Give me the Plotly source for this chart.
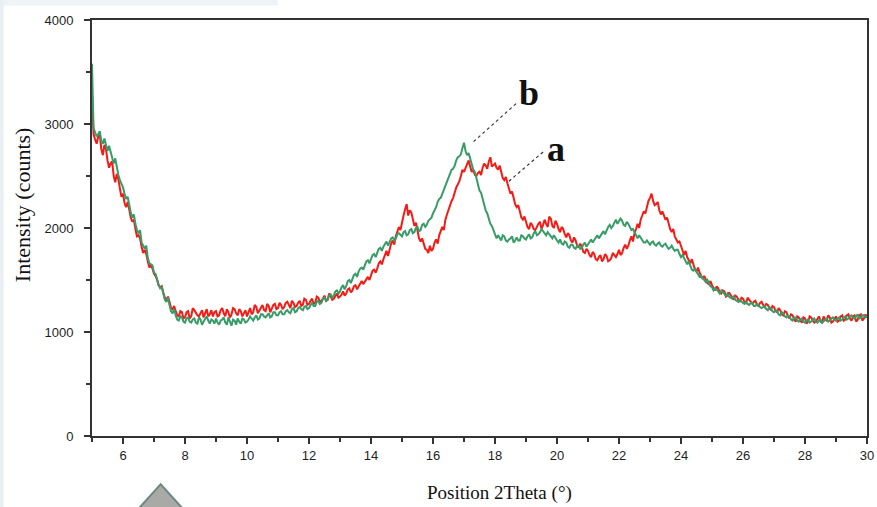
import numpy as np
import plotly.graph_objects as go

# 2-theta sampling grid (degrees)
THETA_START = 5.0
THETA_STEP = 0.05

# Sample a: intensity (counts) at x.0, x.1 ... x.9 for each whole degree; last value at 30.0
sample_a_rows = [
    [3280, 2850, 2880, 2760, 2800, 2650, 2620, 2500, 2520, 2380],  # 5
    [2330, 2200, 2180, 2060, 1990, 1930, 1820, 1790, 1680, 1640],  # 6
    [1560, 1500, 1430, 1380, 1310, 1290, 1220, 1200, 1150, 1190],  # 7
    [1140, 1200, 1150, 1210, 1160, 1190, 1140, 1220, 1170, 1150],  # 8
    [1200, 1160, 1230, 1150, 1190, 1170, 1220, 1160, 1200, 1180],  # 9
    [1150, 1230, 1190, 1240, 1210, 1260, 1200, 1250, 1220, 1270],  # 10
    [1230, 1260, 1240, 1290, 1230, 1280, 1250, 1300, 1260, 1310],  # 11
    [1270, 1320, 1280, 1330, 1300, 1350, 1310, 1340, 1320, 1370],  # 12
    [1340, 1390, 1370, 1420, 1400, 1450, 1440, 1490, 1480, 1530],  # 13
    [1540, 1600, 1610, 1680, 1700, 1780, 1800, 1880, 1920, 2010],  # 14
    [2060, 2180, 2120, 2150, 2020, 1980, 1870, 1850, 1790, 1830],  # 15
    [1800, 1890, 1930, 2010, 2080, 2180, 2260, 2350, 2420, 2500],  # 16
    [2540, 2610, 2590, 2560, 2500, 2540, 2580, 2600, 2640, 2590],  # 17
    [2620, 2560, 2530, 2460, 2430, 2330, 2290, 2200, 2160, 2080],  # 18
    [2060, 1990, 2030, 1980, 2040, 1990, 2080, 2010, 2090, 2000],  # 19
    [2040, 1960, 1990, 1910, 1930, 1860, 1880, 1810, 1820, 1760],  # 20
    [1780, 1720, 1750, 1690, 1740, 1700, 1730, 1690, 1760, 1720],  # 21
    [1790, 1760, 1840, 1830, 1920, 1950, 2040, 2080, 2160, 2200],  # 22
    [2290, 2260, 2230, 2170, 2160, 2080, 2040, 1960, 1920, 1860],  # 23
    [1820, 1740, 1720, 1660, 1640, 1580, 1570, 1510, 1500, 1460],  # 24
    [1450, 1400, 1420, 1370, 1390, 1350, 1360, 1310, 1340, 1290],  # 25
    [1320, 1280, 1310, 1270, 1300, 1250, 1290, 1240, 1260, 1210],  # 26
    [1240, 1190, 1210, 1160, 1190, 1130, 1160, 1100, 1140, 1090],  # 27
    [1130, 1100, 1140, 1090, 1130, 1100, 1150, 1110, 1140, 1100],  # 28
    [1150, 1110, 1160, 1120, 1170, 1110, 1160, 1120, 1170, 1130],  # 29
]
# Sample a at the half steps x.05, x.15 ... x.95
sample_a_half_rows = [
    [2900, 2810, 2900, 2700, 2760, 2580, 2640, 2440, 2470, 2300],  # 5
    [2240, 2250, 2100, 2080, 1920, 1900, 1760, 1750, 1620, 1610],  # 6
    [1540, 1450, 1440, 1330, 1340, 1230, 1250, 1160, 1200, 1130],  # 7
    [1190, 1130, 1230, 1180, 1150, 1210, 1190, 1150, 1210, 1190],  # 8
    [1150, 1210, 1180, 1220, 1140, 1230, 1180, 1220, 1150, 1210],  # 9
    [1200, 1170, 1260, 1180, 1230, 1210, 1270, 1190, 1260, 1220],  # 10
    [1280, 1220, 1280, 1250, 1300, 1240, 1280, 1250, 1320, 1260],  # 11
    [1300, 1270, 1340, 1290, 1320, 1300, 1370, 1310, 1350, 1330],  # 12
    [1360, 1350, 1410, 1380, 1440, 1410, 1470, 1460, 1510, 1500],  # 13
    [1590, 1570, 1660, 1650, 1750, 1730, 1850, 1840, 1970, 1980],  # 14
    [2120, 2230, 2170, 2070, 2050, 1900, 1900, 1800, 1760, 1780],  # 15
    [1860, 1850, 1970, 1980, 2130, 2210, 2290, 2390, 2450, 2560],  # 16
    [2580, 2650, 2540, 2510, 2530, 2510, 2620, 2570, 2680, 2610],  # 17
    [2580, 2600, 2480, 2490, 2370, 2350, 2230, 2220, 2100, 2110],  # 18
    [2010, 2050, 1990, 2020, 2060, 2030, 2040, 2110, 2020, 2070],  # 19
    [1990, 2010, 1940, 1950, 1880, 1910, 1830, 1850, 1770, 1800],  # 20
    [1740, 1770, 1700, 1720, 1680, 1750, 1680, 1710, 1740, 1750],  # 21
    [1740, 1810, 1800, 1880, 1870, 1990, 2000, 2120, 2140, 2260],  # 22
    [2330, 2220, 2250, 2130, 2110, 2100, 1990, 1990, 1880, 1870],  # 23
    [1770, 1780, 1690, 1700, 1600, 1620, 1530, 1540, 1470, 1490],  # 24
    [1420, 1440, 1380, 1400, 1340, 1380, 1330, 1350, 1310, 1330],  # 25
    [1290, 1330, 1280, 1290, 1260, 1280, 1260, 1270, 1230, 1250],  # 26
    [1200, 1230, 1170, 1200, 1150, 1170, 1120, 1150, 1110, 1140],  # 27
    [1080, 1150, 1110, 1100, 1150, 1090, 1120, 1160, 1090, 1130],  # 28
    [1100, 1150, 1110, 1160, 1130, 1150, 1100, 1160, 1110, 1170],  # 29
]
sample_a_end = 1140  # 30.0

# Sample b: intensity (counts) at x.0 ... x.9
sample_b_rows = [
    [3580, 2920, 2900, 2840, 2860, 2740, 2730, 2620, 2580, 2460],  # 5
    [2390, 2280, 2220, 2100, 2040, 1950, 1860, 1800, 1710, 1650],  # 6
    [1570, 1510, 1420, 1370, 1290, 1260, 1180, 1160, 1110, 1140],  # 7
    [1090, 1140, 1090, 1130, 1080, 1120, 1100, 1150, 1080, 1110],  # 8
    [1130, 1070, 1120, 1090, 1140, 1060, 1110, 1130, 1080, 1120],  # 9
    [1100, 1150, 1110, 1160, 1130, 1170, 1140, 1180, 1150, 1190],  # 10
    [1160, 1200, 1170, 1210, 1180, 1230, 1200, 1240, 1210, 1250],  # 11
    [1230, 1280, 1250, 1300, 1280, 1330, 1310, 1360, 1350, 1400],  # 12
    [1390, 1450, 1440, 1500, 1510, 1560, 1580, 1620, 1640, 1690],  # 13
    [1700, 1750, 1760, 1810, 1820, 1870, 1860, 1910, 1900, 1950],  # 14
    [1920, 1970, 1940, 1990, 1960, 2010, 1980, 2040, 2030, 2090],  # 15
    [2140, 2200, 2280, 2330, 2420, 2480, 2560, 2600, 2680, 2710],  # 16
    [2820, 2700, 2660, 2560, 2480, 2360, 2280, 2170, 2080, 2020],  # 17
    [1950, 1930, 1880, 1920, 1870, 1900, 1860, 1910, 1880, 1920],  # 18
    [1890, 1940, 1910, 1970, 1940, 1990, 1950, 1960, 1910, 1930],  # 19
    [1880, 1890, 1840, 1860, 1810, 1840, 1800, 1830, 1810, 1860],  # 20
    [1840, 1890, 1880, 1930, 1920, 1970, 1980, 2030, 2020, 2080],  # 21
    [2060, 2070, 2020, 2040, 1980, 1960, 1900, 1910, 1860, 1880],  # 22
    [1840, 1870, 1830, 1860, 1820, 1850, 1800, 1830, 1780, 1790],  # 23
    [1720, 1710, 1650, 1640, 1590, 1580, 1530, 1520, 1480, 1470],  # 24
    [1430, 1420, 1390, 1400, 1360, 1370, 1330, 1340, 1300, 1310],  # 25
    [1280, 1290, 1260, 1280, 1250, 1260, 1230, 1250, 1210, 1230],  # 26
    [1190, 1200, 1160, 1180, 1140, 1150, 1110, 1140, 1100, 1130],  # 27
    [1090, 1120, 1100, 1130, 1090, 1120, 1100, 1130, 1110, 1140],  # 28
    [1110, 1140, 1120, 1150, 1130, 1160, 1130, 1170, 1140, 1160],  # 29
]
# Sample b at the half steps x.05 ... x.95
sample_b_half_rows = [
    [2960, 2880, 2930, 2810, 2800, 2790, 2660, 2670, 2510, 2430],  # 5
    [2330, 2300, 2150, 2130, 1980, 1980, 1820, 1830, 1660, 1640],  # 6
    [1560, 1450, 1430, 1310, 1330, 1200, 1220, 1120, 1150, 1100],  # 7
    [1130, 1100, 1120, 1090, 1140, 1070, 1130, 1110, 1120, 1080],  # 8
    [1090, 1110, 1140, 1070, 1100, 1120, 1070, 1100, 1130, 1090],  # 9
    [1120, 1130, 1140, 1120, 1170, 1150, 1160, 1140, 1190, 1160],  # 10
    [1190, 1170, 1200, 1190, 1220, 1190, 1230, 1220, 1240, 1220],  # 11
    [1260, 1250, 1290, 1270, 1320, 1300, 1350, 1330, 1390, 1370],  # 12
    [1430, 1410, 1490, 1470, 1550, 1530, 1610, 1600, 1680, 1660],  # 13
    [1740, 1720, 1800, 1780, 1850, 1830, 1900, 1880, 1940, 1930],  # 14
    [1960, 1930, 1980, 1950, 2000, 1970, 2030, 2010, 2070, 2100],  # 15
    [2170, 2250, 2290, 2380, 2440, 2530, 2570, 2650, 2690, 2770],  # 16
    [2740, 2720, 2600, 2540, 2420, 2340, 2220, 2140, 2040, 1980],  # 17
    [1900, 1910, 1930, 1880, 1890, 1920, 1880, 1880, 1930, 1900],  # 18
    [1920, 1900, 1950, 1930, 1960, 1970, 1930, 1940, 1900, 1900],  # 19
    [1860, 1850, 1870, 1820, 1840, 1810, 1830, 1800, 1840, 1820],  # 20
    [1870, 1860, 1910, 1900, 1950, 1940, 2010, 2000, 2060, 2040],  # 21
    [2090, 2030, 2060, 2000, 1990, 1920, 1930, 1880, 1860, 1860],  # 22
    [1860, 1840, 1850, 1830, 1840, 1820, 1810, 1800, 1790, 1750],  # 23
    [1740, 1670, 1680, 1600, 1610, 1550, 1540, 1490, 1500, 1440],  # 24
    [1400, 1410, 1370, 1380, 1350, 1340, 1320, 1310, 1290, 1290],  # 25
    [1270, 1270, 1280, 1250, 1270, 1240, 1240, 1220, 1240, 1200],  # 26
    [1210, 1170, 1190, 1150, 1160, 1120, 1140, 1110, 1120, 1100],  # 27
    [1110, 1090, 1120, 1100, 1110, 1090, 1120, 1100, 1130, 1120],  # 28
    [1130, 1110, 1140, 1120, 1150, 1140, 1150, 1130, 1160, 1140],  # 29
]
sample_b_end = 1150  # 30.0

x_tick_vals = [6, 8, 10, 12, 14, 16, 18, 20, 22, 24, 26, 28, 30]
y_tick_vals = [0, 1000, 2000, 3000, 4000]


def interleave(rows, half_rows, end):
    """Merge whole-step and half-step readings into one ordered series."""
    out = []
    for row, half in zip(rows, half_rows):
        for v, h in zip(row, half):
            out.extend([v, h])
    out.append(end)
    return out


sample_a = interleave(sample_a_rows, sample_a_half_rows, sample_a_end)
sample_b = interleave(sample_b_rows, sample_b_half_rows, sample_b_end)
theta = np.round(THETA_START + THETA_STEP * np.arange(len(sample_a)), 2)

RED = "#f51a14"
GREEN = "#389c68"
AXIS = "#333333"
TICK_FONT = dict(family="Arial, Liberation Sans, sans-serif", size=13, color="#1e1e1e")
SERIF = "Times New Roman, Liberation Serif, serif"

fig = go.Figure()
fig.add_trace(go.Scatter(x=theta, y=sample_a, mode="lines", name="a",
                         line=dict(color=RED, width=2)))
fig.add_trace(go.Scatter(x=theta, y=sample_b, mode="lines", name="b",
                         line=dict(color=GREEN, width=2)))

axis_common = dict(
    showline=True, linecolor=AXIS, linewidth=2, mirror=True,
    ticks="outside", ticklen=6, tickwidth=2, tickcolor=AXIS,
    showgrid=False, zeroline=False, tickfont=TICK_FONT, automargin=False,
)

fig.update_xaxes(range=[5, 30], tickvals=x_tick_vals, ticklabelstandoff=0,
                 minor=dict(dtick=1, tick0=0, ticks="outside", ticklen=4,
                            tickwidth=2, tickcolor=AXIS),
                 **axis_common)
fig.update_yaxes(range=[0, 4000], tickvals=y_tick_vals, ticklabelstandoff=8,
                 minor=dict(dtick=500, tick0=0, ticks="outside", ticklen=4,
                            tickwidth=2, tickcolor=AXIS),
                 **axis_common)

# Sample labels with their leader lines
fig.add_annotation(x=19.09, y=3300, text="<b>b</b>", showarrow=False,
                   xanchor="center", yanchor="middle",
                   font=dict(family=SERIF, size=36, color="#111111"))
fig.add_annotation(x=19.98, y=2755, text="<b>a</b>", showarrow=False,
                   xanchor="center", yanchor="middle",
                   font=dict(family=SERIF, size=36, color="#111111"))
fig.add_shape(type="line", xref="x", yref="y", x0=18.68, y0=3196, x1=17.24, y1=2812,
              line=dict(color="#333333", width=1.2, dash="dot"))
fig.add_shape(type="line", xref="x", yref="y", x0=19.55, y0=2731, x1=18.42, y1=2442,
              line=dict(color="#333333", width=1.2, dash="dot"))

# Axis titles
fig.add_annotation(xref="paper", yref="paper", x=0.5254, y=-0.138,
                   xanchor="center", yanchor="middle",
                   text="Position 2Theta (°)", showarrow=False,
                   font=dict(family=SERIF, size=19, color="#111111"))
fig.add_annotation(xref="paper", yref="paper", x=-0.0905, y=0.557,
                   xanchor="center", yanchor="middle",
                   text="Intensity (counts)", showarrow=False, textangle=-90,
                   font=dict(family=SERIF, size=22, color="#111111"))

# Page decorations: faint top/left bands and a grey marker at the bottom edge
fig.add_shape(type="rect", xref="paper", yref="paper", x0=-0.12, x1=0.24,
              y0=1.035, y1=1.06, line=dict(width=0), fillcolor="#eef3f6", layer="below")
fig.add_shape(type="rect", xref="paper", yref="paper", x0=-0.12, x1=-0.114,
              y0=-0.18, y1=1.06, line=dict(width=0), fillcolor="#e9eff3", layer="below")
fig.add_shape(type="path", xref="paper", yref="paper",
              path="M 0.0560,-0.1830 L 0.0886,-0.1161 L 0.1212,-0.1830 Z",
              fillcolor="#a9aaa6", line=dict(color="#6c8985", width=2))

fig.update_layout(
    width=877, height=507,
    margin=dict(l=92, r=10, t=20, b=71),
    paper_bgcolor="white", plot_bgcolor="white",
    showlegend=False,
)

fig.write_html("out.html")
